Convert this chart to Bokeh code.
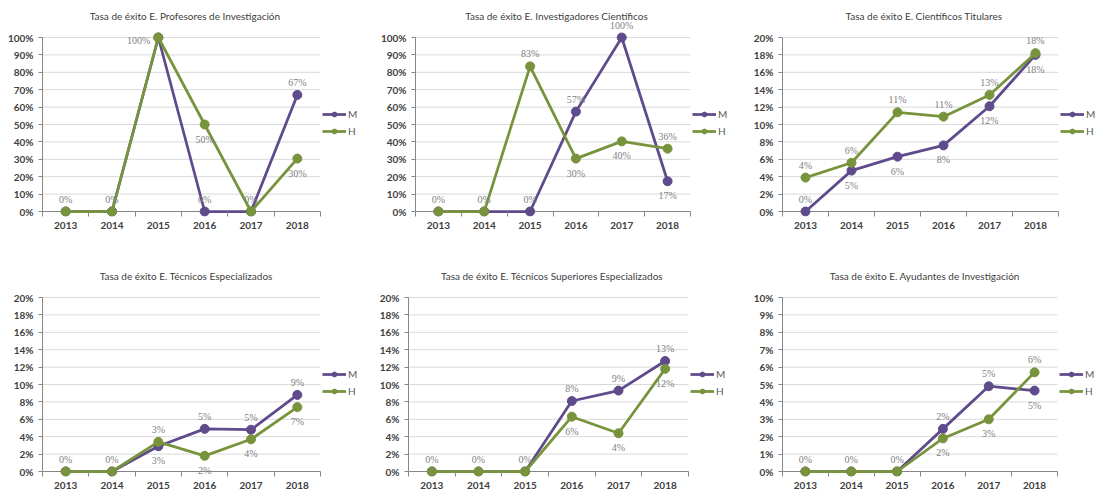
from bokeh.plotting import figure
from bokeh.models import (Range1d, FixedTicker, SingleIntervalTicker, PrintfTickFormatter,
                          Legend, LegendItem, ColumnDataSource, LabelSet, Label)
from bokeh.layouts import row, column
from bokeh.embed import file_html
from bokeh.resources import INLINE

# ---------------- data ----------------
years = ["2013", "2014", "2015", "2016", "2017", "2018"]
series_names = ["M", "H"]

titles = [
    "Tasa de éxito  E. Profesores  de Investigación",
    "Tasa de éxito  E. Investigadores  Científicos",
    "Tasa de éxito  E. Científicos  Titulares",
    "Tasa de éxito  E. Técnicos Especializados",
    "Tasa de éxito  E. Técnicos Superiores  Especializados",
    "Tasa de éxito  E. Ayudantes de Investigación",
]

m_profesores = [0, 0, 100, 0, 0, 67]
h_profesores = [0, 0, 100, 50, 0, 30.4]
m_investigadores = [0, 0, 0, 57.4, 100, 17.4]
h_investigadores = [0, 0, 83.4, 30.4, 40.3, 36.1]
m_titulares = [0, 4.7, 6.3, 7.6, 12.1, 18.0]
h_titulares = [3.9, 5.6, 11.4, 10.9, 13.4, 18.2]
m_tecnicos = [0, 0, 2.9, 4.9, 4.8, 8.8]
h_tecnicos = [0, 0, 3.4, 1.8, 3.7, 7.4]
m_superiores = [0, 0, 0, 8.1, 9.3, 12.7]
h_superiores = [0, 0, 0, 6.3, 4.4, 11.8]
m_ayudantes = [0, 0, 0, 2.45, 4.9, 4.65]
h_ayudantes = [0, 0, 0, 1.9, 3.0, 5.7]

y_max = [100, 100, 20, 20, 20, 10]
y_step = [10, 10, 2, 2, 2, 1]

# ---------------- style ----------------
FONT = "Lato"
M_COLOR = "#5f4b8b"
H_COLOR = "#77933c"
AXIS_COLOR = "#868686"
GRID_COLOR = "#d9d9d9"
TICK_TEXT = "#404040"
LABEL_TEXT = "#7f7f7f"
PAD_PX = 5

# panel geometry in px: figure width/height, left border, plot-area width,
# y pixel (from figure top) of the max gridline and of the 0 line
fig_w = [365, 375, 362, 365, 375, 362]
fig_h = [248, 248, 248, 248, 248, 248]
left_b = [42, 50, 42, 42, 43, 42]
plot_w = [278, 275, 276, 278, 280, 275]
y_top_px = [37, 37, 37, 49, 49, 49]
y_zero_px = [211, 211, 211, 223, 223, 223]

# data-label placements that differ from the default rule (panel, year index, series)
label_overrides = {(0, 3, "H"): "below"}


def make_panel(k, title, m, h, ymax, step):
    n = len(years)
    w, hh, bl, pw, y1, y0 = fig_w[k], fig_h[k], left_b[k], plot_w[k], y_top_px[k], y_zero_px[k]
    bb = hh - y0 - PAD_PX
    frame_h = hh - bb
    ppu_y = (y0 - y1) / ymax
    ppu_x = pw / n
    x_end = (w - bl) / ppu_x
    p = figure(width=w, height=hh, title=None,
               x_range=Range1d(0, x_end), y_range=Range1d(-PAD_PX / ppu_y, ymax + y1 / ppu_y),
               output_backend="svg", toolbar_location=None,
               min_border_left=bl, min_border_right=0, min_border_top=0, min_border_bottom=bb)
    p.outline_line_color = None
    p.background_fill_color = "white"
    p.border_fill_color = "white"
    p.xgrid.visible = False
    p.ygrid.visible = False

    xs = [i + 0.5 for i in range(n)]

    # gridlines over the plot area only, then the category axis line at 0
    ticks = [step * j for j in range(1, int(round(ymax / step)) + 1)]
    p.segment(x0=[0] * len(ticks), x1=[n] * len(ticks), y0=ticks, y1=ticks,
              line_color=GRID_COLOR, line_width=1)
    p.segment(x0=[0], x1=[n], y0=[0], y1=[0], line_color=AXIS_COLOR, line_width=1)

    xa = p.xaxis[0]
    xa.ticker = FixedTicker(ticks=xs, minor_ticks=list(range(n + 1)))
    xa.major_label_overrides = {x: y for x, y in zip(xs, years)}
    xa.axis_line_color = None
    xa.major_tick_out = 0
    xa.major_tick_in = 0
    xa.minor_tick_out = 0
    xa.minor_tick_in = PAD_PX
    xa.minor_tick_line_color = AXIS_COLOR
    xa.major_label_standoff = 5
    xa.major_label_text_font = FONT
    xa.major_label_text_font_size = "10px"
    xa.major_label_text_font_style = "bold"
    xa.major_label_text_color = TICK_TEXT

    ya = p.yaxis[0]
    ya.ticker = SingleIntervalTicker(interval=step, num_minor_ticks=0)
    ya.formatter = PrintfTickFormatter(format="%d%%")
    ya.bounds = (0, ymax)
    ya.axis_line_color = AXIS_COLOR
    ya.major_tick_line_color = AXIS_COLOR
    ya.major_tick_out = 4
    ya.major_tick_in = 0
    ya.minor_tick_line_color = None
    ya.major_label_standoff = 5
    ya.major_label_text_font = FONT
    ya.major_label_text_font_size = "10px"
    ya.major_label_text_font_style = "bold"
    ya.major_label_text_color = TICK_TEXT

    renderers = {}
    for name, vals, col in (("M", m, M_COLOR), ("H", h, H_COLOR)):
        ln = p.line(xs, vals, line_color=col, line_width=2.75)
        pt = p.scatter(xs, vals, size=9, marker="circle", fill_color=col, line_color=col)
        renderers[name] = [ln, pt]

    # data labels
    lx, ly, lt, xo, yo, al, bl_ = [], [], [], [], [], [], []
    for i in range(n):
        for name, ser, oth in (("M", m, h), ("H", h, m)):
            v, o = ser[i], oth[i]
            if v == o:
                if name == "H":
                    continue
                pos = "above" if v < ymax else "left"
            elif v == 0 or v > o:
                pos = "above"
            else:
                pos = "below"
            pos = label_overrides.get((k, i, name), pos)
            lx.append(xs[i])
            ly.append(v)
            lt.append(f"{round(v)}%")
            if pos == "above":
                xo.append(0); yo.append(7); al.append("center"); bl_.append("bottom")
            elif pos == "below":
                xo.append(0); yo.append(-9); al.append("center"); bl_.append("top")
            else:
                xo.append(-8); yo.append(-3); al.append("right"); bl_.append("middle")
    src = ColumnDataSource(dict(x=lx, y=ly, text=lt, xo=xo, yo=yo, al=al, bl=bl_))
    labels = LabelSet(x="x", y="y", text="text", source=src, x_offset="xo", y_offset="yo",
                      text_align="al", text_baseline="bl", text_font=FONT,
                      text_font_size="10px", text_color=LABEL_TEXT)
    p.add_layout(labels)

    # chart title (inside the frame area above the plot)
    p.add_layout(Label(x=pw / 2 + 6, y=frame_h - (y1 - 22), x_units="screen", y_units="screen",
                       text=title, text_align="center", text_baseline="middle",
                       text_font=FONT, text_font_size="10px", text_color="#404040"))

    legend_mid = (y0 + y1) / 2 - 2
    legend = Legend(items=[LegendItem(label=s, renderers=renderers[s]) for s in series_names],
                    location=(pw + 2, frame_h - legend_mid - 15), orientation="vertical")
    legend.label_text_font = FONT
    legend.label_text_font_size = "10px"
    legend.label_text_color = "#595959"
    legend.glyph_width = 24
    legend.glyph_height = 12
    legend.label_height = 12
    legend.label_standoff = 2
    legend.spacing = 5
    legend.padding = 0
    legend.margin = 0
    legend.border_line_color = None
    legend.background_fill_alpha = 0
    p.add_layout(legend)
    return p


data_m = [m_profesores, m_investigadores, m_titulares, m_tecnicos, m_superiores, m_ayudantes]
data_h = [h_profesores, h_investigadores, h_titulares, h_tecnicos, h_superiores, h_ayudantes]

figs = [make_panel(k, titles[k], data_m[k], data_h[k], y_max[k], y_step[k]) for k in range(6)]

layout = column(row(figs[0], figs[1], figs[2], spacing=0),
                row(figs[3], figs[4], figs[5], spacing=0), spacing=0)

open("out.html", "w").write(file_html(layout, INLINE))
